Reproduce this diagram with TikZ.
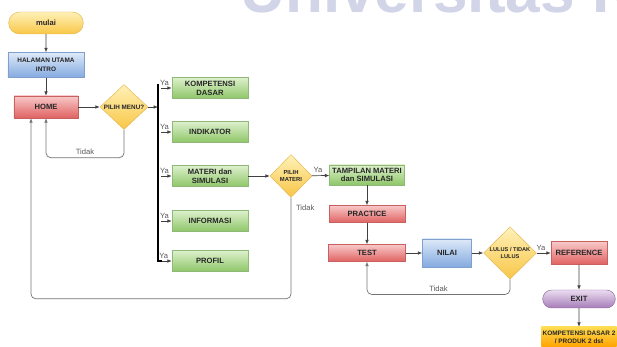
\documentclass[tikz,border=0pt]{standalone}
\usepackage{fontspec}
\setsansfont{Liberation Sans}
\usetikzlibrary{arrows.meta, positioning, shapes.geometric, shapes.misc}

\definecolor{redtop}{HTML}{F8C8C8}
\definecolor{redbot}{HTML}{E06262}
\definecolor{redline}{HTML}{C86060}
\definecolor{greentop}{HTML}{DDF0CC}
\definecolor{greenbot}{HTML}{8EC668}
\definecolor{greenline}{HTML}{90B878}
\definecolor{bluetop}{HTML}{DDE9F8}
\definecolor{bluebot}{HTML}{84AAE0}
\definecolor{blueline}{HTML}{809FCC}
\definecolor{yeltop}{HTML}{FFF1B8}
\definecolor{yelbot}{HTML}{F8C646}
\definecolor{yelline}{HTML}{E4B650}
\definecolor{purtop}{HTML}{EBDCF1}
\definecolor{purbot}{HTML}{A57CB7}
\definecolor{purline}{HTML}{8E6AA0}
\definecolor{orgtop}{HTML}{FFDC50}
\definecolor{orgbot}{HTML}{FFA200}
\definecolor{wmark}{HTML}{D2D4E8}

\begin{document}
\begin{tikzpicture}[
        x=0.03cm, y=-0.03cm,
        label/.style={text=black!85, align=center, inner sep=1pt, font=\sffamily\bfseries\fontsize{6.5}{7.5}\selectfont},
        redbox/.style={label, rectangle, draw=redline, top color=redtop, bottom color=redbot},
        greenbox/.style={label, rectangle, draw=greenline, top color=greentop, bottom color=greenbot, minimum width=2.28cm, minimum height=0.63cm},
        bluebox/.style={label, rectangle, draw=blueline, top color=bluetop, bottom color=bluebot},
        decision/.style={label, diamond, draw=yelline, top color=yeltop, bottom color=yelbot, inner sep=0pt},
        terminal/.style={label, rounded rectangle, draw=#1line, top color=#1top, bottom color=#1bot},
        arrow/.style={-{Latex[length=1.3mm, width=1.1mm]}, black!75, semithick},
        back/.style={-{Latex[length=1.3mm, width=1.1mm]}, black!55, semithick, rounded corners=4pt},
        bus/.style={black, line width=2.4pt},
        note/.style={text=black!65, inner sep=1pt, font=\sffamily\fontsize{6.5}{7.5}\selectfont},
    ]
        \useasboundingbox (0,0) rectangle (617,347);

        \begin{scope}
            \clip (0,0) rectangle (617,14);
            \node[anchor=base west, text=wmark, inner sep=0pt, font=\sffamily\bfseries\fontsize{53}{58}\selectfont] (wm) at (240,13) {Universitas K};
        \end{scope}

        \node[terminal=yel, minimum width=2.31cm, minimum height=0.66cm] (mulai) at (46,23) {mulai};
        \node[bluebox, minimum width=2.28cm, minimum height=0.75cm, font=\sffamily\bfseries\fontsize{5.5}{7.5}\selectfont] (intro) at (46,65) {HALAMAN UTAMA\\INTRO};
        \node[redbox, minimum width=1.92cm, minimum height=0.66cm] (home) at (46,107) {HOME};
        \node[decision, minimum width=1.44cm, minimum height=1.32cm, font=\sffamily\bfseries\fontsize{5.4}{6}\selectfont] (pilihmenu) at (124,107) {PILIH MENU?};

        \coordinate (bartop) at (158,84);
        \node[greenbox] (kd) at (210,88) {KOMPETENSI\\DASAR};
        \node[greenbox] (indikator) at (210,132) {INDIKATOR};
        \node[greenbox] (materi) at (210,176) {MATERI dan\\SIMULASI};
        \node[greenbox] (informasi) at (210,221) {INFORMASI};
        \node[greenbox] (profil) at (210,261) {PROFIL};

        \node[decision, minimum width=1.26cm, minimum height=1.29cm, font=\sffamily\bfseries\fontsize{5}{6.5}\selectfont] (pilihmateri) at (291,176) {PILIH\\MATERI};
        \node[greenbox, minimum width=2.25cm, minimum height=0.6cm] (tampilan) at (367,175) {TAMPILAN MATERI\\dan SIMULASI};
        \node[redbox, minimum width=2.28cm, minimum height=0.51cm] (practice) at (367,214) {PRACTICE};
        \node[redbox, minimum width=2.31cm, minimum height=0.51cm] (test) at (367,253) {TEST};
        \node[bluebox, minimum width=1.47cm, minimum height=0.84cm] (nilai) at (447,253) {NILAI};
        \node[decision, minimum width=1.59cm, minimum height=1.5cm, font=\sffamily\bfseries\fontsize{4.8}{6.5}\selectfont] (lulus) at (510,253) {LULUS / TIDAK\\LULUS};
        \node[redbox, minimum width=1.68cm, minimum height=0.69cm] (reference) at (579,253) {REFERENCE};
        \node[terminal=pur, minimum width=2.25cm, minimum height=0.54cm] (exit) at (579,299) {EXIT};
        \node[label, rectangle, top color=orgtop, bottom color=orgbot, minimum width=2.25cm, minimum height=0.6cm, font=\sffamily\bfseries\fontsize{5.5}{7}\selectfont] (kd2) at (579,337) {KOMPETENSI DASAR 2\\/ PRODUK 2 dst};

        \draw[arrow] (mulai) -- (intro);
        \draw[arrow] (intro) -- (home);
        \draw[arrow] (home) -- (pilihmenu);
        \draw[arrow] (pilihmenu) -- (bartop |- pilihmenu);
        \draw[bus] (bartop) -- (bartop |- profil.west) -- ([xshift=-0.3cm]profil.west);

        \draw[arrow] ([xshift=0.1cm]bartop |- kd) -- node[note, pos=0.3, above=1pt] {Ya} (kd);
        \draw[arrow] ([xshift=0.1cm]bartop |- indikator) -- node[note, pos=0.3, above=1pt] {Ya} (indikator);
        \draw[arrow] ([xshift=0.1cm]bartop |- materi) -- node[note, pos=0.3, above=1pt] {Ya} (materi);
        \draw[arrow] ([xshift=0.1cm]bartop |- informasi) -- node[note, pos=0.3, above=1pt] {Ya} (informasi);
        \draw[arrow] ([xshift=-0.3cm]profil.west) -- node[note, pos=0.2, above=1pt] {Ya} (profil);

        \draw[arrow] (materi) -- (pilihmateri);
        \draw[arrow] (pilihmateri) -- node[note, pos=0.35, above=1pt] {Ya} (tampilan);
        \draw[arrow] (tampilan) -- (practice);
        \draw[arrow] (practice) -- (test);
        \draw[arrow] (test) -- (nilai);
        \draw[arrow] (nilai) -- (lulus);
        \draw[arrow] (lulus) -- node[note, pos=0.3, above=1pt] {Ya} (reference);
        \draw[arrow] (reference) -- (exit);
        \draw[arrow] (exit) -- (kd2);

        \draw[back] (pilihmenu.south) -- ++(0,28) -| node[note, pos=0.25, above=1pt] {Tidak} (home.south);
        \draw[back] (pilihmateri.south) -- node[note, pos=0.1, right=3pt] {Tidak} ++(0,101) -| ([xshift=-0.45cm]home.south);
        \draw[back] (lulus.south) -- ++(0,15) -| node[note, pos=0.25, above=1pt] {Tidak} (test.south);
    \end{tikzpicture}
\end{document}
